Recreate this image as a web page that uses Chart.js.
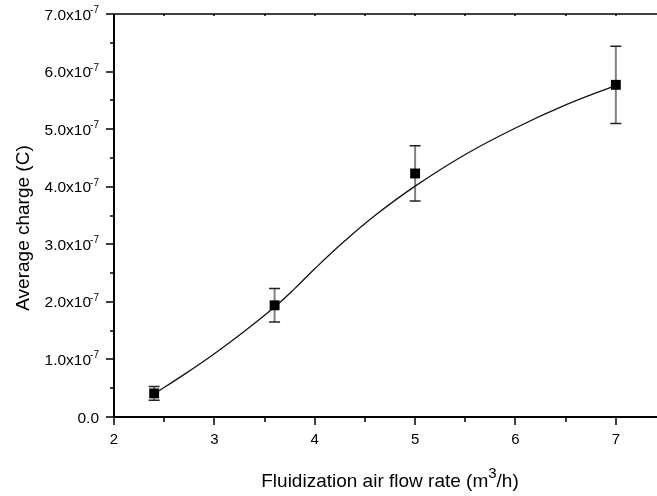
<!DOCTYPE html>
<html>
<head>
<meta charset="utf-8">
<script src="https://cdn.jsdelivr.net/npm/chart.js@4"></script>
<style>
  html, body { margin: 0; padding: 0; background: #fff; }
  #chart { display: block; }
</style>
</head>
<body>
<canvas id="chart" width="657" height="496"></canvas>
<script>
// ===== DATA =====
const flowRates = [2.4, 3.6, 5.0, 7.0];
const avgCharge = [0.41e-7, 1.94e-7, 4.23e-7, 5.77e-7];
const chargeErr = [0.12e-7, 0.29e-7, 0.48e-7, 0.67e-7];

// fitted curve
const fitX = [2.4, 2.7, 3.0, 3.3, 3.6, 3.8, 4.0, 4.3, 4.6, 5.0, 5.5, 6.0, 6.5, 7.0];
const fitY = [0.40e-7, 0.74e-7, 1.10e-7, 1.49e-7, 1.91e-7, 2.23e-7, 2.575e-7, 3.06e-7,
              3.50e-7, 4.01e-7, 4.56e-7, 5.02e-7, 5.42e-7, 5.76e-7];

const xTicks = [2, 3, 4, 5, 6, 7];
const xMinorTicks = [2.5, 3.5, 4.5, 5.5, 6.5];
const yTicks = [0, 1e-7, 2e-7, 3e-7, 4e-7, 5e-7, 6e-7, 7e-7];
const yTickLabels = ['0.0', '1.0x10', '2.0x10', '3.0x10', '4.0x10', '5.0x10', '6.0x10', '7.0x10'];
const yTickSup = ['', '-7', '-7', '-7', '-7', '-7', '-7', '-7'];
const yMinorTicks = [0.5e-7, 1.5e-7, 2.5e-7, 3.5e-7, 4.5e-7, 5.5e-7, 6.5e-7];

const FONT = '"Liberation Sans", Arial, sans-serif';

// ===== ERROR BARS (drawn under the markers) =====
const errorBars = {
    id: 'errorBars',
    beforeDatasetsDraw(chart) {
        const { ctx, scales: { x, y } } = chart;
        ctx.save();
        flowRates.forEach((fx, i) => {
            const px = x.getPixelForValue(fx);
            const top = y.getPixelForValue(avgCharge[i] + chargeErr[i]);
            const bot = y.getPixelForValue(avgCharge[i] - chargeErr[i]);
            ctx.strokeStyle = '#808080';
            ctx.lineWidth = 2;
            ctx.beginPath();
            ctx.moveTo(px, top);
            ctx.lineTo(px, bot);
            ctx.stroke();
            ctx.strokeStyle = '#222';
            ctx.lineWidth = 1.5;
            ctx.beginPath();
            ctx.moveTo(px - 5.5, top); ctx.lineTo(px + 5.5, top);
            ctx.moveTo(px - 5.5, bot); ctx.lineTo(px + 5.5, bot);
            ctx.stroke();
        });
        ctx.restore();
    }
};

// ===== AXES, TICKS, LABELS =====
const axesFrame = {
    id: 'axesFrame',
    afterDraw(chart) {
        const { ctx, chartArea: a, scales: { x, y } } = chart;
        ctx.save();
        ctx.strokeStyle = '#000';
        ctx.fillStyle = '#000';

        // frame lines
        ctx.lineWidth = 2;
        ctx.beginPath();
        ctx.moveTo(a.left, a.top);
        ctx.lineTo(a.left, a.bottom + 1);
        ctx.moveTo(a.left - 1, a.bottom);
        ctx.lineTo(a.right, a.bottom);
        ctx.stroke();
        ctx.lineWidth = 1.5;
        ctx.beginPath();
        ctx.moveTo(a.left, a.top);
        ctx.lineTo(a.right, a.top);
        ctx.stroke();

        // x ticks
        ctx.lineWidth = 1.5;
        ctx.beginPath();
        xTicks.forEach(v => {
            const px = Math.round(x.getPixelForValue(v));
            ctx.moveTo(px, a.bottom); ctx.lineTo(px, a.bottom + 8);
            ctx.moveTo(px, a.top); ctx.lineTo(px, a.top + 2);
        });
        xMinorTicks.forEach(v => {
            const px = Math.round(x.getPixelForValue(v));
            ctx.moveTo(px, a.bottom); ctx.lineTo(px, a.bottom + 5);
            ctx.moveTo(px, a.top); ctx.lineTo(px, a.top + 2);
        });
        // y ticks
        yTicks.forEach(v => {
            const py = Math.round(y.getPixelForValue(v));
            ctx.moveTo(a.left - 8, py); ctx.lineTo(a.left, py);
        });
        yMinorTicks.forEach(v => {
            const py = Math.round(y.getPixelForValue(v));
            ctx.moveTo(a.left - 4, py); ctx.lineTo(a.left, py);
        });
        ctx.stroke();

        // x tick labels
        ctx.font = '15px ' + FONT;
        ctx.textAlign = 'center';
        ctx.textBaseline = 'alphabetic';
        xTicks.forEach(v => {
            ctx.fillText(String(v), x.getPixelForValue(v), a.bottom + 27);
        });

        // y tick labels with superscript exponent
        const rightEdge = a.left - 15;
        yTicks.forEach((v, i) => {
            const py = y.getPixelForValue(v);
            ctx.font = '10px ' + FONT;
            const supW = yTickSup[i] ? ctx.measureText(yTickSup[i]).width : 0;
            ctx.textAlign = 'left';
            if (yTickSup[i]) ctx.fillText(yTickSup[i], rightEdge - supW, py - 1);
            ctx.font = '15.5px ' + FONT;
            ctx.textAlign = 'right';
            ctx.fillText(yTickLabels[i], rightEdge - supW + (supW ? 1 : 0), py + 5.5);
        });

        // y axis title
        ctx.save();
        ctx.translate(29, 228);
        ctx.rotate(-Math.PI / 2);
        ctx.font = '19px ' + FONT;
        ctx.textAlign = 'center';
        ctx.fillText('Average charge (C)', 0, 0);
        ctx.restore();

        // x axis title with superscript 3
        const pre = 'Fluidization air flow rate (m';
        const sup = '3';
        const post = '/h)';
        ctx.font = '19px ' + FONT;
        const wPre = ctx.measureText(pre).width;
        const wPost = ctx.measureText(post).width;
        ctx.font = '15px ' + FONT;
        const wSup = ctx.measureText(sup).width;
        const total = wPre + wSup + wPost;
        let tx = 390 - total / 2;
        const base = 487;
        ctx.textAlign = 'left';
        ctx.font = '19px ' + FONT;
        ctx.fillText(pre, tx, base);
        tx += wPre;
        ctx.font = '15px ' + FONT;
        ctx.fillText(sup, tx, base - 9);
        tx += wSup;
        ctx.font = '19px ' + FONT;
        ctx.fillText(post, tx, base);

        ctx.restore();
    }
};

// ===== CHART =====
const ctx = document.getElementById('chart');
new Chart(ctx, {
    type: 'scatter',
    data: {
        datasets: [
            {
                label: 'Average charge',
                data: flowRates.map((fx, i) => ({ x: fx, y: avgCharge[i] })),
                pointStyle: 'rect',
                pointRadius: 7,
                pointHoverRadius: 7,
                backgroundColor: '#000',
                borderColor: '#000',
                borderWidth: 0,
                showLine: false
            },
            {
                label: 'Fit',
                data: fitX.map((fx, i) => ({ x: fx, y: fitY[i] })),
                showLine: true,
                borderColor: '#111',
                borderWidth: 1.3,
                pointRadius: 0,
                pointHoverRadius: 0,
                tension: 0.4,
                fill: false
            }
        ]
    },
    options: {
        responsive: false,
        animation: false,
        layout: { autoPadding: false, padding: { top: 14, right: 0, left: 0, bottom: 0 } },
        plugins: {
            legend: { display: false },
            tooltip: { enabled: false }
        },
        scales: {
            x: {
                type: 'linear',
                min: 2,
                max: 7.41,
                ticks: { display: false },
                grid: { display: false },
                border: { display: false },
                afterFit: s => { s.height = 79; }
            },
            y: {
                type: 'linear',
                min: 0,
                max: 7e-7,
                ticks: { display: false },
                grid: { display: false },
                border: { display: false },
                afterFit: s => { s.width = 114; }
            }
        }
    },
    plugins: [errorBars, axesFrame]
});
</script>
</body>
</html>
